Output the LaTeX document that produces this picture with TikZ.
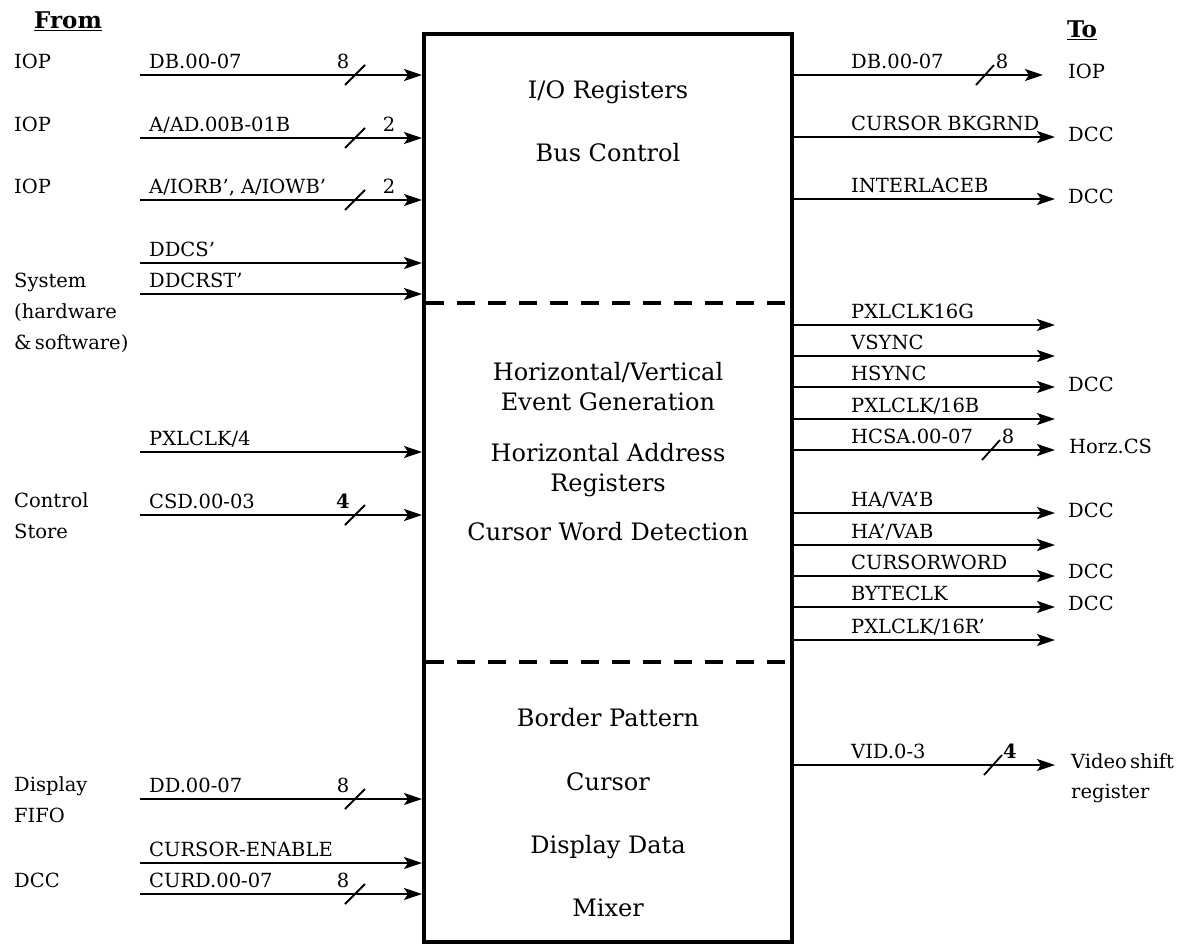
\documentclass[tikz,border=0pt]{standalone}
\usepackage{fontspec}
\setmainfont{DejaVu Serif}
\usetikzlibrary{arrows.meta}
\begin{document}
\begin{tikzpicture}[x=1pt,y=-1pt,
  sig/.style={line width=2pt,-{Stealth[length=18pt,width=12pt,inset=4pt]}},
  busmark/.style={line width=1.8pt},
  lbl/.style={anchor=base west,inner sep=0pt,font=\fontsize{19.5}{21}\selectfont},
  num/.style={anchor=base,inner sep=0pt,font=\fontsize{19.5}{21}\selectfont},
  boxtxt/.style={anchor=base,inner sep=0pt,font=\fontsize{24}{26}\selectfont},
  head/.style={anchor=base,inner sep=0pt,font=\fontsize{23}{25}\selectfont\bfseries},
  sep/.style={line width=4pt,dash pattern=on 18pt off 13pt}
]
\useasboundingbox (0,0) rectangle (1184,945);

% main block
\node[draw,line width=4pt,minimum width=368pt,minimum height=908pt,inner sep=0pt] (box) at (608,488) {};
\coordinate (s1l) at (426,303); \coordinate (s1r) at (790,303);
\coordinate (s2l) at (426,662); \coordinate (s2r) at (790,662);
\draw[sep] (s1l) -- (s1r);
\draw[sep] (s2l) -- (s2r);

% block texts
\node[boxtxt] (t1) at (608,98) {I/O Registers};
\node[boxtxt] (t2) at (608,161) {Bus Control};
\node[boxtxt] (t3) at (608,380) {Horizontal/Vertical};
\node[boxtxt] (t4) at (608,410) {Event Generation};
\node[boxtxt] (t5) at (608,461) {Horizontal Address};
\node[boxtxt] (t6) at (608,491) {Registers};
\node[boxtxt] (t7) at (608,540) {Cursor Word Detection};
\node[boxtxt] (t8) at (608,726) {Border Pattern};
\node[boxtxt] (t9) at (608,790) {Cursor};
\node[boxtxt] (t10) at (608,853) {Display Data};
\node[boxtxt] (t11) at (608,916) {Mixer};

% headings
\node[head] (from) at (68,28) {\underline{From}};
\node[head] (to) at (1082,37) {\underline{To}};

% sources (left)
\node[lbl] (srcA) at (14,68) {IOP};
\node[lbl] (srcB) at (14,131) {IOP};
\node[lbl] (srcC) at (14,193) {IOP};
\node[lbl] (srcD1) at (14,287) {System};
\node[lbl] (srcD2) at (14,318) {(hardware};
\node[lbl] (srcD3) at (14,349) {\&\,software)};
\node[lbl] (srcE1) at (14,507) {Control};
\node[lbl] (srcE2) at (14,538) {Store};
\node[lbl] (srcF1) at (14,791) {Display};
\node[lbl] (srcF2) at (14,822) {FIFO};
\node[lbl] (srcG) at (14,887) {DCC};

% left input connectors
\foreach \n/\y/\t in {1/75/{DB.00-07},2/138/{A/AD.00B-01B},3/200/{A/IORB', A/IOWB'},
  4/263/{DDCS'},5/294/{DDCRST'},6/452/{PXLCLK/4},7/515/{CSD.00-03},
  8/799/{DD.00-07},9/863/{CURSOR-ENABLE},10/894/{CURD.00-07}}{
  \coordinate (in\n) at (140,\y);
  \coordinate (ie\n) at (422,\y);
  \draw[sig] (in\n) -- (ie\n);
  \node[lbl] (il\n) at (149,\y-7) {\t};
}
% bus width marks (left)
\foreach \n/\y/\t/\dx in {1/75/8/-12,2/138/2/34,3/200/2/34,7/515/\textbf{4}/-12,8/799/8/-12,10/894/8/-12}{
  \coordinate (bm\n) at (355,\y);
  \draw[busmark] ([shift={(-10,10)}]bm\n) -- ([shift={(10,-10)}]bm\n);
  \node[num] (bn\n) at (355+\dx,\y-7) {\t};
}

% right output connectors
\foreach \n/\y/\e/\t in {1/75/1043/{DB.00-07},2/137/1055/{CURSOR BKGRND},3/199/1055/{INTERLACEB},
  4/325/1055/{PXLCLK16G},5/356/1055/{VSYNC},6/387/1055/{HSYNC},7/419/1055/{PXLCLK/16B},
  8/450/1055/{HCSA.00-07},9/513/1055/{HA/VA'B},10/545/1055/{HA'/VAB},
  11/576/1055/{CURSORWORD},12/607/1055/{BYTECLK},13/640/1055/{PXLCLK/16R'},14/765/1055/{VID.0-3}}{
  \coordinate (os\n) at (794,\y);
  \coordinate (oe\n) at (\e,\y);
  \draw[sig] (os\n) -- (oe\n);
  \node[lbl] (ol\n) at (851,\y-7) {\t};
}
% bus width marks (right)
\foreach \n/\y/\x/\t in {1/75/985/8,8/450/991/8,14/765/993/\textbf{4}}{
  \coordinate (rm\n) at (\x,\y);
  \draw[busmark] ([shift={(-9,10)}]rm\n) -- ([shift={(9,-10)}]rm\n);
  \node[num] (rn\n) at (\x+17,\y-7) {\t};
}

% destinations (right)
\node[lbl] (dA) at (1068,78) {IOP};
\node[lbl] (dB) at (1068,141) {DCC};
\node[lbl] (dC) at (1068,203) {DCC};
\node[lbl] (dD) at (1068,391) {DCC};
\node[lbl] (dE) at (1069,453) {Horz.CS};
\node[lbl] (dF) at (1068,517) {DCC};
\node[lbl] (dG) at (1068,578) {DCC};
\node[lbl] (dH) at (1068,610) {DCC};
\node[lbl] (dI1) at (1071,768) {Video\,shift};
\node[lbl] (dI2) at (1071,798) {register};
\end{tikzpicture}
\end{document}
